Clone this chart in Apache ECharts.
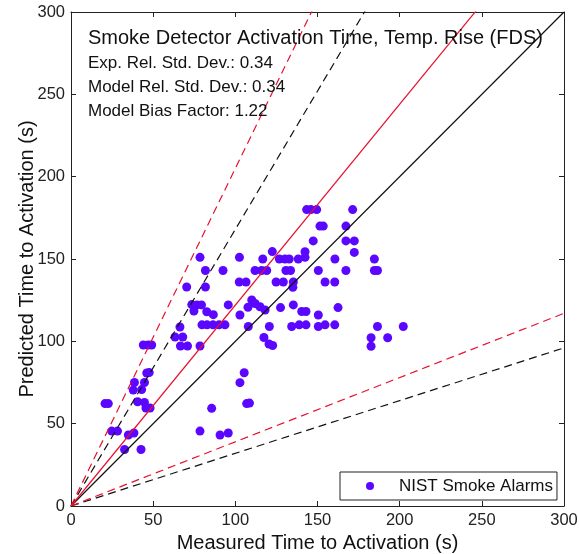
<!DOCTYPE html>
<html>
<head>
<meta charset="utf-8">
<script src="https://cdn.jsdelivr.net/npm/echarts@6/dist/echarts.min.js"></script>
<style>
html,body{margin:0;padding:0;background:#fff;}
#chart{width:579px;height:554px;}
</style>
</head>
<body>
<div id="chart"></div>
<script>
// ---- data ----
const axisMin = 0, axisMax = 300, tickStep = 50;
const seriesName = 'NIST Smoke Alarms';
const measured = [
  143.4,146.0,149.5,171.4,
  151.5,153.5,167.3,
  147.4,167.3,172.4,
  122.5,142.4,172.4,
  78.5,102.5,142.4,
  116.7,126.8,130.2,132.8,138.3,160.6,184.6,
  81.8,92.5,112.0,116.0,119.1,130.8,133.6,150.5,167.3,184.6,186.5,
  102.4,106.5,124.8,129.2,135.3,154.6,160.5,135.0,
  70.4,81.8,
  73.5,76.7,79.4,74.8,82.6,86.6,95.7,102.8,110.0,112.0,115.0,118.1,107.7,127.5,135.3,140.4,143.0,150.5,162.5,
  66.3,79.7,82.8,86.4,90.1,93.7,107.9,120.7,134.3,138.9,143.0,150.5,154.6,160.5,186.5,202.2,
  63.3,68.0,66.6,70.9,78.5,117.4,120.5,122.7,182.6,192.7,182.6,44.0,47.0,49.1,
  46.1,47.6,38.6,44.7,37.9,43.0,20.7,22.7,40.5,44.7,45.6,48.1,105.4,102.8,106.9,108.6,85.6,
  24.8,28.3,34.9,38.3,32.6,42.6,78.5,90.7,95.7
];
const predicted = [
  180,180,180,180,
  170,170,170,
  161,161,161,
  154.5,154.4,154,
  151,151,151,
  150,150,150,150,150,150,150,
  143,143,143,143,143,143,143,143,143,143,143,
  136,136,136,136,136,136,136,132.8,
  133,133,
  122.3,122.1,122.1,118.4,118,116.2,122.1,116,125.1,123,121,119,120.7,120.5,122.1,118.1,118.1,116,120.5,
  108.7,110,110,110,110,110,109,109,109,110,110,109,110,110,109,109,
  102.6,102.6,97.2,97.2,97.2,102.3,98.4,97.5,102.2,102.2,97,97.8,97.8,97.8,
  80.8,81,75,75,70.4,70.7,62.2,62.2,63.3,62.9,59.5,59.5,80.9,74.9,62.2,62.5,59.3,
  45.5,45.5,43.1,44.3,34.3,34.3,45.5,43.1,44.3
];
// reference lines: value at x = 0 and x = 300
const lineX = [0, 300];
const unityY = [0, 300];
const expUpperY = [0, 504];
const expLowerY = [0, 96];
const biasY = [0, 366];
const modelUpperY = [0, 615];
const modelLowerY = [0, 117];

const annotations = [
  'Smoke Detector Activation Time, Temp. Rise (FDS)',
  'Exp. Rel. Std. Dev.: 0.34',
  'Model Rel. Std. Dev.: 0.34',
  'Model Bias Factor: 1.22'
];
const xName = 'Measured Time to Activation (s)';
const yName = 'Predicted Time to Activation (s)';

// ---- chart ----
const FONT = '"Liberation Sans", Arial, Helvetica, sans-serif';
const pts = measured.map((x, i) => [x, predicted[i]]);
const mk = ys => lineX.map((x, i) => [x, ys[i]]);

function refLine(ys, color, dashed) {
  return {
    type: 'line', data: mk(ys), showSymbol: false, symbol: 'none',
    silent: true, clip: true, z: 5, animation: false,
    lineStyle: { color: color, width: 1.2, type: dashed ? [8, 5] : 'solid' }
  };
}

const axisCommon = {
  type: 'value', min: axisMin, max: axisMax, interval: tickStep,
  axisLine: { show: true, onZero: false, lineStyle: { color: '#222', width: 1 } },
  axisTick: { show: true, inside: true, length: 5, lineStyle: { color: '#222' } },
  splitLine: { show: false }
};

const chart = echarts.init(document.getElementById('chart'), null, { renderer: 'canvas' });
chart.setOption({
  animation: false,
  backgroundColor: '#fff',
  grid: { left: 71, right: 15, top: 12, bottom: 48, containLabel: false, outerBoundsMode: 'none' },
  xAxis: [
    Object.assign({}, axisCommon, {
      position: 'bottom',
      name: xName, nameLocation: 'middle', nameGap: 22,
      nameTextStyle: { fontFamily: FONT, fontSize: 20, color: '#111' },
      axisLabel: { fontFamily: FONT, fontSize: 16.5, color: '#222', margin: 6 }
    }),
    Object.assign({}, axisCommon, { position: 'top', axisLabel: { show: false } })
  ],
  yAxis: [
    Object.assign({}, axisCommon, {
      position: 'left',
      name: yName, nameLocation: 'middle', nameGap: 34, nameMoveOverlap: false,
      nameTextStyle: { fontFamily: FONT, fontSize: 20, color: '#111' },
      axisLabel: { fontFamily: FONT, fontSize: 16.5, color: '#222', margin: 6 }
    }),
    Object.assign({}, axisCommon, { position: 'right', axisLabel: { show: false } })
  ],
  legend: {
    data: [seriesName],
    left: 340, top: 472,
    orient: 'horizontal',
    icon: 'circle',
    itemWidth: 48, itemHeight: 8,
    padding: [5, 4, 5, 26],
    borderColor: '#222', borderWidth: 1, borderRadius: 0,
    backgroundColor: '#fff',
    textStyle: { fontFamily: FONT, fontSize: 17, color: '#111', lineHeight: 18 }
  },
  graphic: annotations.map((t, i) => ({
    type: 'text', left: 88, top: [28, 55, 79, 103][i], z: 100,
    style: { text: t, fontFamily: FONT, fontSize: i === 0 ? 20 : 17, fill: '#111' }
  })),
  series: [
    {
      name: seriesName, type: 'scatter', data: pts,
      symbol: 'circle', symbolSize: 9, z: 2,
      itemStyle: { color: '#5a06ff', opacity: 1 }
    },
    refLine(unityY, '#111', false),
    refLine(expUpperY, '#111', true),
    refLine(expLowerY, '#111', true),
    refLine(biasY, '#e8102e', false),
    refLine(modelUpperY, '#e8102e', true),
    refLine(modelLowerY, '#e8102e', true)
  ]
});
</script>
</body>
</html>
